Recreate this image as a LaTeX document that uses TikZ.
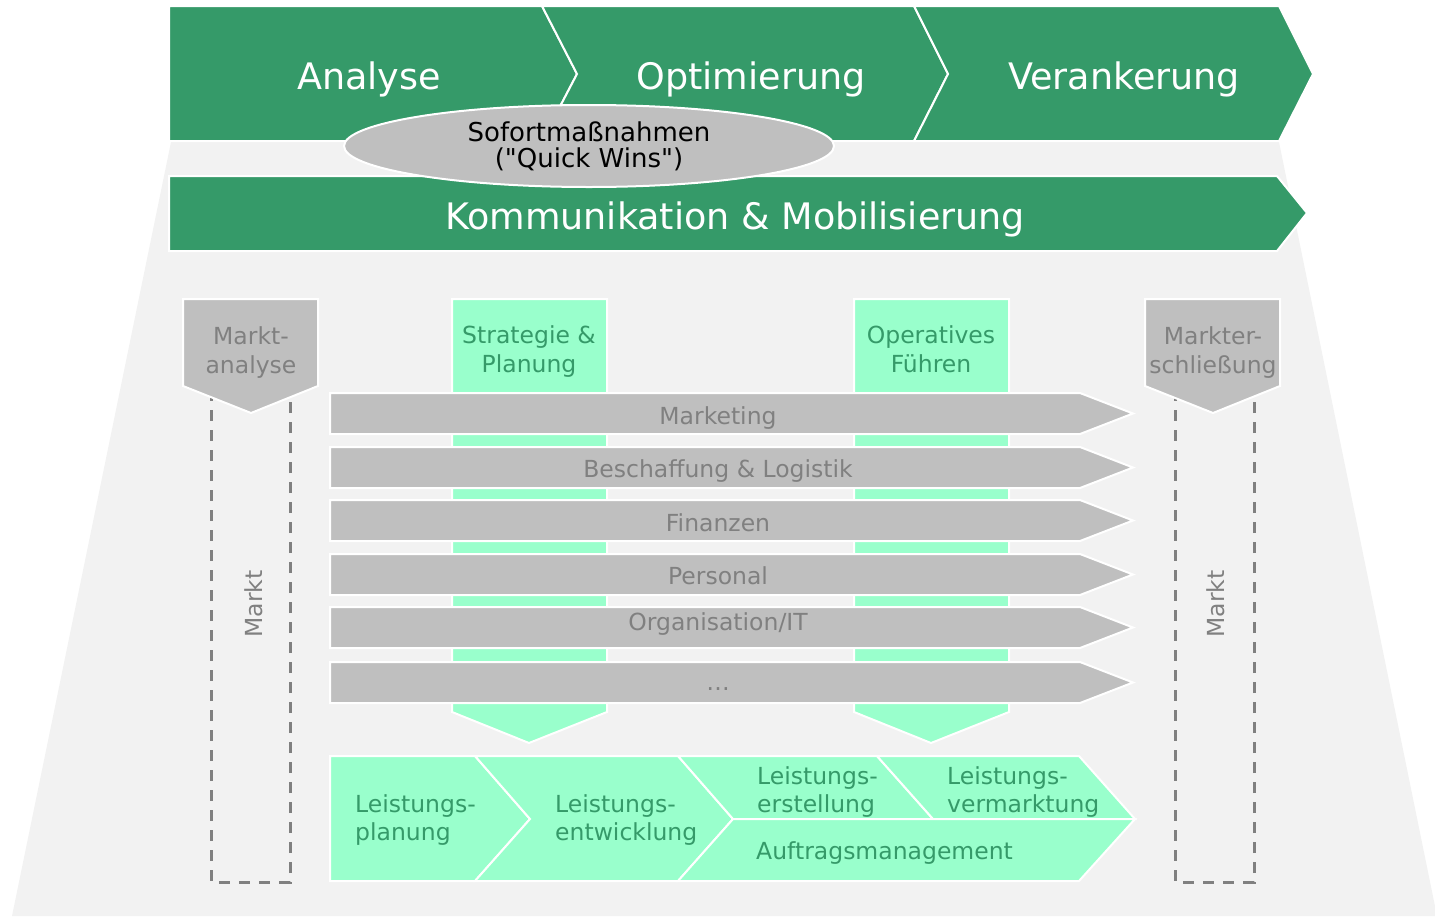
\documentclass[tikz,border=0pt]{standalone}
\usepackage{fontspec}
\setmainfont{DejaVu Sans}[Ligatures=TeXOff]
\usetikzlibrary{shapes.geometric}

\definecolor{hdgreen}{RGB}{53,154,105}
\definecolor{mint}{RGB}{153,255,204}
\definecolor{boxgray}{RGB}{191,191,191}
\definecolor{txtgray}{RGB}{128,128,128}
\definecolor{bggray}{RGB}{242,242,242}

\begin{document}
\begin{tikzpicture}[
      x=1pt,
      y=-1pt,
      phase/.style={fill=hdgreen, draw=white, line width=2pt},
      bar/.style={fill=boxgray, draw=white, line width=2pt},
      area/.style={fill=mint, draw=white, line width=2pt},
      marktbox/.style={draw=txtgray, dash pattern=on 11pt off 9pt, line width=3pt},
      headtext/.style={text=white, font=\fontsize{36.5}{40}\selectfont, anchor=base, inner sep=0pt},
      bartext/.style={text=txtgray, font=\fontsize{23.5}{29}\selectfont, anchor=base, inner sep=0pt, align=center},
      areatext/.style={text=hdgreen, font=\fontsize{23.5}{29}\selectfont, anchor=base, inner sep=0pt, align=center},
      steptext/.style={areatext, anchor=base west, align=left, font=\fontsize{23.5}{28}\selectfont}
    ]
      \useasboundingbox (0,0) rectangle (1435,916);

      \fill[bggray] (171,142) -- (1279,142) -- (1437,916) -- (12,916) -- cycle;

      \filldraw[phase] (169,6) -- (542,6) -- (577,74) -- (542,141) -- (169,141) -- cycle;
      \filldraw[phase] (542,6) -- (914,6) -- (948,74) -- (914,141) -- (542,141) -- (577,74) -- cycle;
      \filldraw[phase] (914,6) -- (1279,6) -- (1313,74) -- (1279,141) -- (914,141) -- (948,74) -- cycle;
      \node[headtext] (analyse) at (369,89) {Analyse};
      \node[headtext] (optimierung) at (751,89) {Optimierung};
      \node[headtext] (verankerung) at (1124,89) {Verankerung};

      \filldraw[phase] (169,176) -- (1277,176) -- (1307,213) -- (1277,251) -- (169,251) -- cycle;
      \node[headtext] (kommunikation) at (735,229) {Kommunikation \& Mobilisierung};

      \node[ellipse, fill=boxgray, draw=white, line width=2pt, minimum width=490pt, minimum height=82pt,
        inner sep=0pt, align=center, font=\fontsize{26}{26}\selectfont] (quickwins) at (589,146)
        {Sofortmaßnahmen\\("Quick Wins")};

      \draw[marktbox] (211,390) rectangle (290,882);
      \draw[marktbox] (1175,390) rectangle (1254,882);
      \filldraw[bar] (183,299) -- (318,299) -- (318,386) -- (251,413) -- (183,386) -- cycle;
      \filldraw[bar] (1145,299) -- (1280,299) -- (1280,386) -- (1213,413) -- (1145,386) -- cycle;
      \node[bartext] (marktanalyse) at (251,373) {Markt-\\analyse};
      \node[bartext] (markterschliessung) at (1213,373) {Markter-\\schließung};
      \node[bartext, rotate=90] (marktlinks) at (262,604) {Markt};
      \node[bartext, rotate=90] (marktrechts) at (1224,604) {Markt};

      \filldraw[area] (452,299) -- (607,299) -- (607,712) -- (529,743) -- (452,712) -- cycle;
      \filldraw[area] (854,299) -- (1009,299) -- (1009,712) -- (931,743) -- (854,712) -- cycle;
      \node[areatext] (strategie) at (529,372) {Strategie \&\\Planung};
      \node[areatext] (operatives) at (931,372) {Operatives\\Führen};

      \filldraw[bar] (330,393) -- (1080,393) -- (1133,413.5) -- (1080,434) -- (330,434) -- cycle;
      \filldraw[bar] (330,447) -- (1080,447) -- (1133,467.5) -- (1080,488) -- (330,488) -- cycle;
      \filldraw[bar] (330,500) -- (1080,500) -- (1133,520.5) -- (1080,541) -- (330,541) -- cycle;
      \filldraw[bar] (330,554) -- (1080,554) -- (1133,574.5) -- (1080,595) -- (330,595) -- cycle;
      \filldraw[bar] (330,607) -- (1080,607) -- (1133,627.5) -- (1080,648) -- (330,648) -- cycle;
      \filldraw[bar] (330,662) -- (1080,662) -- (1133,682.5) -- (1080,703) -- (330,703) -- cycle;
      \node[bartext] (marketing) at (718,424) {Marketing};
      \node[bartext] (beschaffung) at (718,477) {Beschaffung \& Logistik};
      \node[bartext] (finanzen) at (718,531) {Finanzen};
      \node[bartext] (personal) at (718,584) {Personal};
      \node[bartext] (organisation) at (718,630) {Organisation/IT};
      \node[bartext] (weitere) at (718,690) {…};

      \filldraw[area] (330,756) -- (475,756) -- (530,819) -- (475,881) -- (330,881) -- cycle;
      \filldraw[area] (475,756) -- (678,756) -- (733,819) -- (678,881) -- (475,881) -- (530,819) -- cycle;
      \filldraw[area] (678,756) -- (877,756) -- (933,819) -- (733,819) -- cycle;
      \filldraw[area] (877,756) -- (1079,756) -- (1135,819) -- (933,819) -- cycle;
      \filldraw[area] (733,819) -- (1135,819) -- (1079,881) -- (678,881) -- cycle;
      \node[steptext] (planung) at (355,840) {Leistungs-\\planung};
      \node[steptext] (entwicklung) at (555,840) {Leistungs-\\entwicklung};
      \node[steptext] (erstellung) at (757,812) {Leistungs-\\erstellung};
      \node[steptext] (vermarktung) at (947,812) {Leistungs-\\vermarktung};
      \node[steptext] (auftrag) at (756,859) {Auftragsmanagement};
    \end{tikzpicture}
\end{document}
